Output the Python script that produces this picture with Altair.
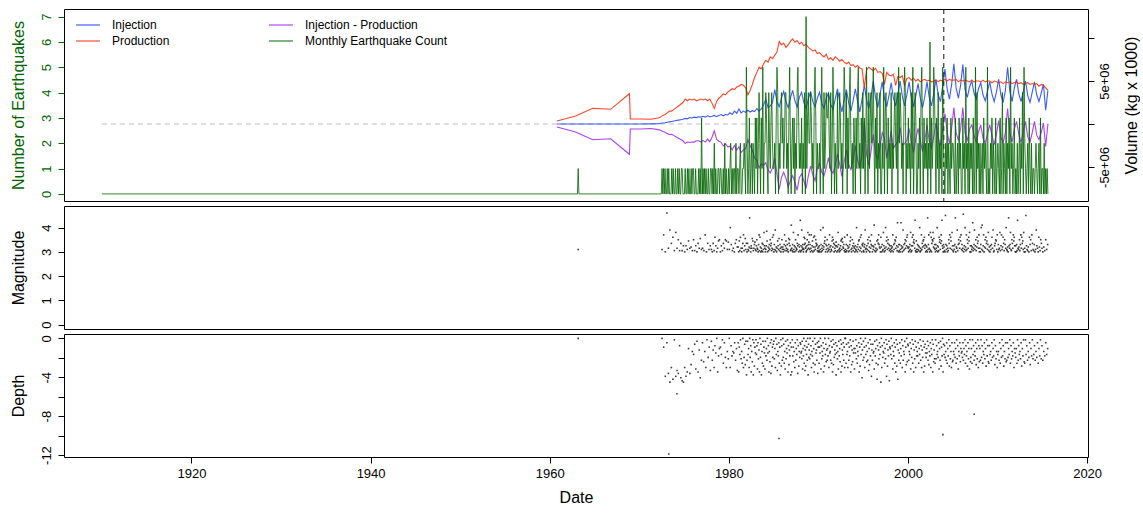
import altair as alt
import pandas as pd

FONT = "Liberation Sans"
GREEN = "#006400"

# ---------------- axes / categories ----------------
X_DOMAIN = [1905.77, 2020.1]
X_TICKS = [1920, 1940, 1960, 1980, 2000, 2020]
SERIES = ["Injection", "Production", "Injection - Production", "Monthly Earthquake Count"]
COLORS = ["#1a3cff", "#ff2400", "#a020f0", GREEN]
RIGHT_TICKS = [-5e6, 0, 5e6, 1e7]
RIGHT_LABELS = {5e6: "5e+06", -5e6: "-5e+06"}

# ---------------- volumes (millions of kg x 1000) ----------------
EARLY_T = [1960.8, 1962.9, 1964.8, 1966.8, 1968.9, 1969.0, 1970.2, 1971.3]
EARLY_PROD = [0.35, 0.93, 1.83, 1.71, 3.52, 0.58, 0.58, 0.55]
EARLY_INJ = [0.0, 0.0, 0.0, 0.0, 0.0, 0.0, 0.0, 0.02]

PROD_Q = {
    1972: [0.7, 0.8, 1.0, 1.1], 1973: [1.3, 1.5, 1.5, 1.7], 1974: [1.9, 2.1, 2.3, 2.5],
    1975: [2.9, 2.7, 2.9, 2.8], 1976: [2.9, 2.7, 2.8, 2.9], 1977: [2.8, 2.9, 2.7, 2.9],
    1978: [2.4, 1.8, 2.6, 3.0], 1979: [3.2, 3.5, 3.4, 3.7], 1980: [3.9, 4.1, 4.0, 4.3],
    1981: [4.4, 4.6, 4.5, 4.2], 1982: [3.4, 3.9, 4.6, 5.4], 1983: [6.0, 6.6, 6.4, 7.0],
    1984: [7.4, 7.2, 7.8, 7.6], 1985: [8.0, 8.4, 9.6, 9.2], 1986: [9.4, 8.9, 9.2, 9.6],
    1987: [9.9, 9.5, 9.7, 9.3], 1988: [9.5, 9.1, 9.3, 8.9], 1989: [8.7, 8.5, 8.6, 8.2],
    1990: [8.3, 8.0, 7.8, 8.1], 1991: [7.5, 7.7, 7.4, 7.8], 1992: [7.6, 7.3, 7.5, 7.2],
    1993: [7.0, 7.2, 6.8, 6.9], 1994: [6.6, 6.8, 6.5, 6.4], 1995: [4.2, 6.3, 6.6, 6.4],
    1996: [6.2, 6.5, 6.0, 6.1], 1997: [5.9, 4.6, 6.0, 5.7], 1998: [5.6, 5.8, 4.5, 5.5],
    1999: [5.4, 5.6, 4.4, 5.3], 2000: [5.4, 5.1, 5.3, 5.0], 2001: [5.2, 4.9, 5.1, 5.2],
    2002: [5.0, 5.1, 4.9, 5.0], 2003: [5.1, 4.9, 5.1, 5.0], 2004: [5.2, 5.0, 5.2, 5.1],
    2005: [5.1, 5.2, 4.9, 5.1], 2006: [5.0, 5.1, 5.0, 4.9], 2007: [5.1, 4.9, 5.0, 5.0],
    2008: [4.9, 5.1, 4.9, 5.0], 2009: [5.0, 4.8, 5.0, 4.9], 2010: [4.8, 4.9, 4.7, 4.9],
    2011: [4.8, 4.9, 4.7, 4.8], 2012: [4.9, 4.7, 4.8, 4.6], 2013: [4.7, 4.8, 4.6, 4.7],
    2014: [4.6, 4.7, 4.4, 4.6], 2015: [4.5, 4.2, 3.9],
}
INJ_Q = {
    1972: [0.05, 0.08, 0.12, 0.15], 1973: [0.2, 0.25, 0.3, 0.35], 1974: [0.4, 0.45, 0.5, 0.55],
    1975: [0.65, 0.6, 0.75, 0.7], 1976: [0.8, 0.75, 0.85, 0.8], 1977: [0.9, 0.8, 0.95, 0.85],
    1978: [0.9, 1.0, 0.85, 1.0], 1979: [1.1, 0.95, 1.1, 1.05], 1980: [1.3, 1.1, 1.5, 1.25],
    1981: [1.75, 1.3, 1.5, 1.35], 1982: [1.6, 1.4, 1.55, 1.45], 1983: [1.8, 1.5, 1.75, 2.2],
    1984: [2.9, 1.9, 2.1, 2.5], 1985: [4.0, 2.6, 2.0, 3.0], 1986: [3.8, 2.6, 1.9, 3.0],
    1987: [3.9, 2.7, 2.0, 3.1], 1988: [3.7, 2.5, 1.8, 2.9], 1989: [3.8, 2.6, 2.0, 3.0],
    1990: [3.7, 2.4, 1.8, 3.0], 1991: [3.6, 2.3, 1.7, 2.9], 1992: [4.1, 2.6, 1.4, 2.8],
    1993: [4.0, 2.5, 1.5, 2.7], 1994: [4.1, 2.6, 1.4, 2.9], 1995: [4.5, 2.8, 1.8, 3.2],
    1996: [5.0, 3.1, 1.9, 3.4], 1997: [4.9, 3.0, 2.0, 3.3], 1998: [4.8, 3.0, 2.1, 3.5],
    1999: [5.0, 3.2, 2.1, 3.4], 2000: [4.9, 3.1, 2.0, 3.3], 2001: [4.7, 3.0, 1.9, 3.2],
    2002: [4.9, 3.1, 2.1, 3.5], 2003: [5.2, 3.4, 2.6, 4.4], 2004: [6.4, 4.1, 2.9, 4.6],
    2005: [7.0, 4.2, 3.0, 4.5], 2006: [6.9, 4.0, 3.1, 4.3], 2007: [5.0, 3.6, 2.9, 4.1],
    2008: [4.8, 3.4, 2.7, 3.8], 2009: [4.9, 3.5, 2.6, 3.7], 2010: [5.2, 3.4, 2.5, 3.9],
    2011: [6.6, 3.8, 2.6, 4.2], 2012: [5.2, 3.5, 2.6, 3.8], 2013: [5.0, 3.3, 2.5, 3.7],
    2014: [4.9, 3.4, 2.6, 3.6], 2015: [4.6, 1.6, 3.9],
}

GRAY_T = [1910.0, 2015.7]
VLINE_T = [2004.0]

# ---------------- monthly earthquake counts ----------------
EQ_EARLY_T = [1910.0, 1963.1, 1963.18, 1963.26]
EQ_EARLY_N = [0, 0, 1, 0]
EQ_MONTHLY = {
    1972: "000000101010", 1973: "010100010100", 1974: "100101001100", 1975: "010010100101",
    1976: "100100010103", 1977: "010101001001", 1978: "101020100110", 1979: "110010201001",
    1980: "012010110201", 1981: "101200112105", 1982: "201301202103", 1983: "130242031502",
    1984: "243104213421", 1985: "120354021342", 1986: "312441203520", 1987: "231302145312",
    1988: "130214071342", 1989: "243120453021", 1990: "120352041243", 1991: "342140253021",
    1992: "041243120354", 1993: "140314521203", 1994: "203145120314", 1995: "130252041342",
    1996: "352031402140", 1997: "021503420312", 1998: "140213421405", 1999: "243120354021",
    2000: "312041502430", 2001: "021304520312", 2002: "130216031254", 2003: "203140213052",
    2004: "102130210312", 2005: "210301203120", 2006: "031205120302", 2007: "120301504120",
    2008: "201203121050", 2009: "102130210301", 2010: "210301402103", 2011: "021305120130",
    2012: "102013021405", 2013: "210120310201", 2014: "101210120301", 2015: "10201010",
}

# ---------------- earthquake magnitudes / depths ----------------
CODE = "0123456789abcdefghijklmnopqrstuvwxyz"  # mag = 3.0 + 0.05*i ; depth = -0.15*i
MAG_CODES = {
    1972: "2e0", 1973: "w3i7c1", 1974: "g3a1715", 1975: "0529341", 1976: "a15073b2",
    1977: "31e0725", 1978: "2071c5039a", 1979: "05173a928", 1980: "2k61307a4",
    1981: "4091c3037e15b27", 1982: "07214s3053b913682", 1983: "15a3206e1c40317062g5",
    1984: "3025h9041362a5713c2e", 1985: "062i1403952b16304a2", 1986: "4026e15931620b7a512m",
    1987: "3160g2504a13275e0641q", 1988: "051i426302c6b734015a2g638e",
    1989: "2603e15904c1d42a756130", 1990: "41502i60315k2479c0625a",
    1991: "03162e405219c4a7063158", 1992: "5041g6203159a2b84361c0",
    1993: "2061e5304169c203a5174", 1994: "30521k40629a41c3e0657",
    1995: "1046i23052a71c40936e5", 1996: "0524m1603192a7e6430c",
    1997: "40612g5031k49c27a3615", 1998: "205314e0627a93c51o406",
    1999: "1602o5304i1627a395ce4", 2000: "304162g051c5e8a73q1092",
    2001: "062514k031e2749a5c360", 2002: "5140s26e302g1c07a9g4b36",
    2003: "20631k5041c8a27e9q5306", 2004: "410u625031a7e3c92g5",
    2005: "10526s043i16a73c9e2", 2006: "613v052k41e2a73c9g05",
    2007: "0524o136i25a14c793e0", 2008: "306k2m15e04a3c7926g",
    2009: "140526c3i0157a92e", 2010: "0623g15e24c71a63k",
    2011: "2140s536g21a73e9c50", 2012: "5061q324a16e3c792g0",
    2013: "30u52140c6a1e72", 2014: "1602i530c41a73", 2015: "041a26",
}
DEPTH_CODES = {
    1972: "06q", 1973: "3ouks1", 1974: "qmo5rtu", 1975: "kqn7oi9", 1976: "b4l2n8rf",
    1977: "3g9k1d6m", 1978: "2f8k5a0nc7", 1979: "6b1h3dk9e", 1980: "0k5c9a3f7m",
    1981: "3n6b1e9h0kd4i2p", 1982: "f2b7k0d5n9g1p3j6a", 1983: "1b5l3e8n0d4p9h2j6a",
    1984: "l2c7f0a5n9g3o1j6d4", 1985: "2e7k0b4m9c3h6p1j5f", 1986: "0d4h9l2e7a1n5i8c3p6",
    1987: "n1c6g9k3f7b1o5j9d3", 1988: "4a9e2l7c0h5m8j2b6f0p4d8", 1989: "e0b5k9c2h7n0i4a8f3o6",
    1990: "2h6a0l5e9c3n7j0b4g8f", 1991: "7c0k5a9f2h6n1i4d8b3p", 1992: "a5e9l2c7g1n4j8b3f6k0",
    1993: "0h4b9k3f6c1n5i8g2a7", 1994: "l7a1e5h9c3n6j0b4r8f", 1995: "2d6k0b5g9f3m7i1c4q8",
    1996: "f4a9l2c7h1s5i8e3b6u", 1997: "0k5d9a3h7e1q4j8c2t6", 1998: "7b0e5l9c3h6n1j4s8f",
    1999: "a3h7c1k5f9b2n6i0g4", 2000: "5f9b3l7d1h4n8e2k6c", 2001: "9c3h7b1f5k8d2n6j4a",
    2002: "d7a2f5i9c3k7b1n4g8e", 2003: "h1e5b9d3l7f2j6c0n4", 2004: "b5d9f3h7c1j5e9k3g",
    2005: "f9b3d7h1e5l9c3g7a", 2006: "9d3f7b1h5c9j3e7l1g", 2007: "d7h1b5f9c3i7e1k5g",
    2008: "7f1d5h9b3e7j1c5g", 2009: "h5b9f3d7c1i5e9k", 2010: "b9f3h7d1c5j9e3g",
    2011: "f3d7b1h5e9c3k7a", 2012: "d7h1f5b9e3j7c1g", 2013: "h1b5f9d3i7c1e",
    2014: "b5f9d3h7c1e5", 2015: "f9c3b7",
}
YEAR_SPAN = {1972: (0.45, 1.0), 2015: (0.0, 0.65)}
EXTRA_T = [1963.18]
EXTRA_MAG = [3.1]
EXTRA_DEPTH = [0.0]
DEPTH_OUTLIER_T = [1973.3, 1974.2, 1985.6, 2003.9, 2007.4]
DEPTH_OUTLIER_V = [-11.9, -5.7, -10.3, -9.9, -7.8]

# ---------------- build tables ----------------
vol_rows = []


def add_vol(t, inj, prod):
    vol_rows.append({"t": t, "series": "Injection", "v": inj * 1e6})
    vol_rows.append({"t": t, "series": "Production", "v": prod * 1e6})
    vol_rows.append({"t": t, "series": "Injection - Production", "v": (inj - prod) * 1e6})


for t, i, p in zip(EARLY_T, EARLY_INJ, EARLY_PROD):
    add_vol(t, i, p)
for y in sorted(PROD_Q):
    for q, (i, p) in enumerate(zip(INJ_Q[y], PROD_Q[y])):
        add_vol(y + 0.125 + 0.25 * q, i, p)
vol_df = pd.DataFrame(vol_rows)

eq_rows = [{"t": t, "n": n} for t, n in zip(EQ_EARLY_T, EQ_EARLY_N)]
for y in sorted(EQ_MONTHLY):
    for m, c in enumerate(EQ_MONTHLY[y]):
        eq_rows.append({"t": y + (m + 0.5) / 12, "n": int(c)})
eq_df = pd.DataFrame(eq_rows)
eq_df["series"] = "Monthly Earthquake Count"


def spread(codes, conv):
    rows = []
    for y, s in codes.items():
        a, b = YEAR_SPAN.get(y, (0.0, 1.0))
        for k, c in enumerate(s):
            rows.append({"t": y + a + (b - a) * (k + 0.5) / len(s), "v": conv(CODE.index(c))})
    return rows


mag_rows = spread(MAG_CODES, lambda i: 3.0 + 0.05 * i)
mag_rows += [{"t": t, "v": v} for t, v in zip(EXTRA_T, EXTRA_MAG)]
mag_df = pd.DataFrame(mag_rows)

dep_rows = spread(DEPTH_CODES, lambda i: -0.15 * i)
dep_rows += [{"t": t, "v": v} for t, v in zip(EXTRA_T, EXTRA_DEPTH)]
dep_rows += [{"t": t, "v": v} for t, v in zip(DEPTH_OUTLIER_T, DEPTH_OUTLIER_V)]
dep_df = pd.DataFrame(dep_rows)

gray_df = pd.DataFrame({"t": GRAY_T, "v": [0.0] * len(GRAY_T)})
vline_df = pd.DataFrame({"t": VLINE_T})

# ---------------- chart ----------------
W, H1, H2 = 1024, 192, 123
xs = alt.Scale(domain=X_DOMAIN, nice=False, zero=False)
x_none = alt.X("t:Q", scale=xs, axis=None)

color_scale = alt.Scale(domain=SERIES, range=COLORS)
legend = alt.Legend(orient="none", legendX=11, legendY=8, columns=2, columnPadding=98,
                    rowPadding=0, clipHeight=16, symbolType="stroke", symbolSize=576,
                    symbolStrokeWidth=1.5, symbolOpacity=0.65, labelFont=FONT, labelFontSize=12,
                    labelOffset=11, title=None, padding=0)

right_expr = " : ".join(f"datum.value == {k} ? '{v}'" for k, v in RIGHT_LABELS.items()) + " : ''"
vol_scale = alt.Scale(domain=[-8.95e6, 1.337e7], nice=False, zero=False)
vol_axis = alt.Axis(orient="right", values=RIGHT_TICKS, labelExpr=right_expr,
                    title="Volume (kg x 1000)", labelAngle=270, labelAlign="center",
                    labelBaseline="middle", labelPadding=10, tickSize=6, titleX=43, titleY=H1 / 2,
                    titleAngle=270, titleAlign="center", titleBaseline="middle")

gray = alt.Chart(gray_df).mark_line(color="#bebebe", strokeDash=[5, 4], strokeWidth=1).encode(
    x=x_none, y=alt.Y("v:Q", scale=vol_scale, axis=vol_axis))
vol_lines = alt.Chart(vol_df).mark_line(strokeWidth=1.1, opacity=0.85).encode(
    x=x_none, y=alt.Y("v:Q", scale=vol_scale),
    color=alt.Color("series:N", scale=color_scale, legend=legend), detail="series:N")
vline = alt.Chart(vline_df).mark_rule(color="#111", strokeDash=[5, 4], strokeWidth=1).encode(x=x_none)
vol_group = alt.layer(gray, vol_lines, vline)

eq_line = alt.Chart(eq_df).mark_line(strokeWidth=1.0, opacity=0.8).encode(
    x=x_none,
    y=alt.Y("n:Q", scale=alt.Scale(domain=[-0.28, 7.3], nice=False, zero=False),
            axis=alt.Axis(orient="left", values=list(range(8)), title="Number of Earthquakes",
                          titleColor=GREEN, labelColor=GREEN, tickColor=GREEN, labelAngle=270,
                          labelAlign="center", labelBaseline="middle", labelPadding=12, tickSize=6,
                          titleX=-46, titleY=H1 / 2, titleAngle=270, titleAlign="center",
                          titleBaseline="middle")),
    color=alt.Color("series:N", scale=color_scale, legend=legend))

top = alt.layer(vol_group, eq_line).resolve_scale(y="independent").properties(width=W, height=H1)


def left_axis(title, values, expr=None):
    kw = dict(values=values, title=title, labelAngle=270, labelAlign="center",
              labelBaseline="middle", labelPadding=12, tickSize=6, titleX=-46, titleY=H2 / 2,
              titleAngle=270, titleAlign="center", titleBaseline="middle")
    if expr:
        kw["labelExpr"] = expr
    return alt.Axis(**kw)


mid = alt.Chart(mag_df).mark_square(size=2.5, color="#222", opacity=0.9).encode(
    x=x_none,
    y=alt.Y("v:Q", scale=alt.Scale(domain=[-0.18, 4.89], nice=False, zero=False),
            axis=left_axis("Magnitude", [0, 1, 2, 3, 4]))).properties(width=W, height=H2)

bot = alt.Chart(dep_df).mark_square(size=2.5, color="#222", opacity=0.9).encode(
    x=alt.X("t:Q", scale=xs,
            axis=alt.Axis(values=X_TICKS, labelExpr="'' + datum.value", title="Date", tickSize=6,
                          labelPadding=4, labelFlush=False, titleX=W / 2, titleY=40,
                          titleAlign="center", titleBaseline="middle")),
    y=alt.Y("v:Q", scale=alt.Scale(domain=[-12.2, 0.45], nice=False, zero=False),
            axis=left_axis("Depth", [-12, -10, -8, -6, -4, -2, 0],
                           "datum.value % 4 == 0 ? '' + datum.value : ''"))
).properties(width=W, height=H2)

chart = alt.vconcat(top, mid, bot, spacing=5, bounds="flush").properties(
    padding={"left": 9, "top": 8, "right": 0, "bottom": 0}
).configure(font=FONT).configure_view(stroke="#000", strokeWidth=1).configure_axis(
    labelFont=FONT, titleFont=FONT, labelFontSize=13, titleFontSize=16, titleFontWeight="normal",
    labelColor="#000", titleColor="#000", tickColor="#000", domain=False, grid=False,
    labelOverlap=False)

chart.save("out.html", embed_options={"renderer": "svg", "actions": False})
